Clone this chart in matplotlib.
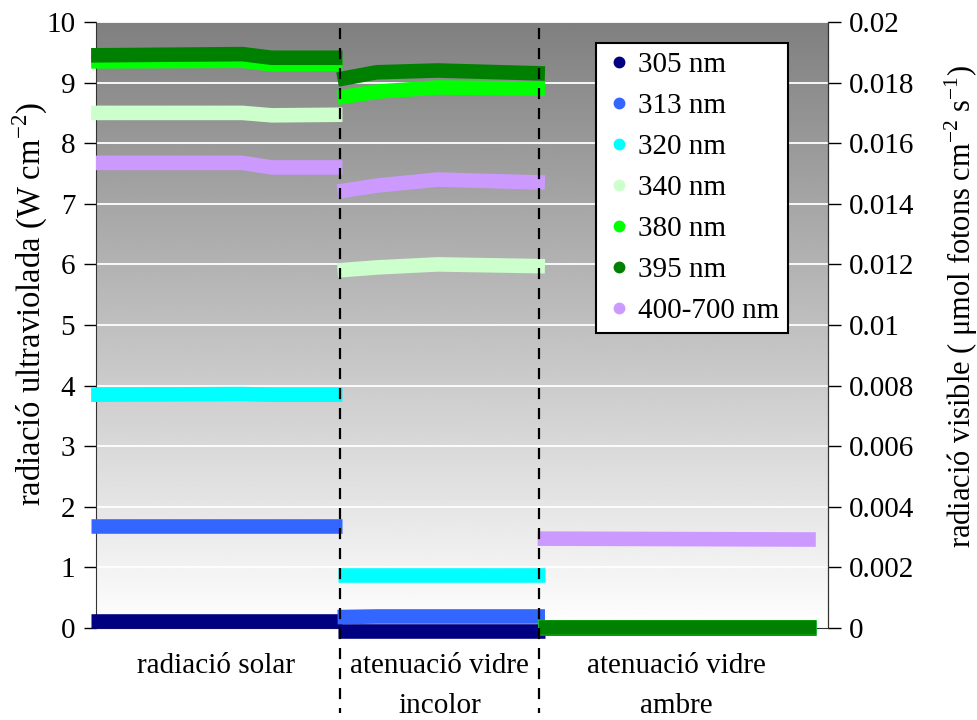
import numpy as np
import matplotlib
matplotlib.use("Agg")
import matplotlib.pyplot as plt
from matplotlib.lines import Line2D

plt.rcParams['font.family'] = ['Liberation Serif', 'DejaVu Serif']
plt.rcParams['mathtext.fontset'] = 'custom'
plt.rcParams['mathtext.rm'] = 'Liberation Serif'

# sample positions of each measuring period
x_solar = [-2, 60, 72, 101]
x_incolor = [99, 115, 140, 184]
x_ambre = [181, 295]
segment_bounds = [100, 181.6]
segment_labels = ['radiació solar', 'atenuació vidre\nincolor', 'atenuació vidre\nambre']
segment_centers = [49, 140.8, 238]

# UV series (W cm-2), one list per period
uv_names = ['305 nm', '313 nm', '320 nm', '340 nm', '380 nm', '395 nm']
uv_colors = ['#000080', '#3366ff', '#00ffff', '#ccffcc', '#00ff00', '#008000']
uv_solar = [
    [0.12, 0.12, 0.12, 0.12],
    [1.68, 1.68, 1.68, 1.68],
    [3.85, 3.86, 3.85, 3.85],
    [8.50, 8.50, 8.46, 8.47],
    [9.35, 9.36, 9.30, 9.31],
    [9.45, 9.47, 9.41, 9.41],
]
uv_incolor = [
    [-0.05, -0.05, -0.05, -0.05],
    [0.18, 0.19, 0.19, 0.19],
    [0.88, 0.88, 0.88, 0.88],
    [5.90, 5.95, 6.00, 5.97],
    [8.75, 8.85, 8.92, 8.90],
    [9.05, 9.17, 9.20, 9.15],
]
uv_ambre = [
    [0.0, 0.0],
    [0.0, 0.0],
    [0.01, 0.01],
    [0.01, 0.01],
    [0.02, 0.02],
    [0.02, 0.02],
]

# visible series (umol fotons cm-2 s-1)
vis_name = '400-700 nm'
vis_color = '#cc99ff'
vis_solar = [0.01535, 0.01535, 0.0152, 0.0152]
vis_incolor = [0.0144, 0.0146, 0.0148, 0.0147]
vis_ambre = [0.00295, 0.00292]

left_ticks = list(range(0, 11))
right_ticks = [0, 0.002, 0.004, 0.006, 0.008, 0.01, 0.012, 0.014, 0.016, 0.018, 0.02]
right_labels = ['0', '0.002', '0.004', '0.006', '0.008', '0.01', '0.012', '0.014',
                '0.016', '0.018', '0.02']

fig = plt.figure(figsize=(9.78, 7.2), dpi=100)
ax = fig.add_axes([96/978, 1-628/720, 732/978, 606/720])

# gray gradient background
grad = np.linspace(1.0, 0.5, 256).reshape(-1, 1)
ax.imshow(grad, extent=[0, 1, 0, 1], transform=ax.transAxes, aspect='auto',
          cmap='gray', vmin=0, vmax=1, origin='lower', zorder=0)

for t in left_ticks[1:]:
    ax.axhline(t, color='white', lw=1.3, zorder=1)

lw = 10.5
for i in range(len(uv_names)):
    ax.plot(x_solar, uv_solar[i], color=uv_colors[i], lw=lw, solid_capstyle='butt', zorder=3,
            clip_on=False)
    ax.plot(x_incolor, uv_incolor[i], color=uv_colors[i], lw=lw, solid_capstyle='butt', zorder=3,
            clip_on=False)
    ax.plot(x_ambre, uv_ambre[i], color=uv_colors[i], lw=lw, solid_capstyle='butt', zorder=3,
            clip_on=False)

ax.set_xlim(0, 300)
ax.set_ylim(0, 10)
ax.set_yticks(left_ticks)
ax.set_yticklabels([str(t) for t in left_ticks])
ax.set_xticks(segment_centers)
ax.set_xticklabels(segment_labels, linespacing=1.7)
ax.tick_params(axis='x', length=0, pad=18, labelsize=21)
ax.tick_params(axis='y', direction='out', length=9, width=1, labelsize=21, pad=6)
ax.spines['top'].set_visible(False)
ax.spines['left'].set_color('#333333')
ax.spines['bottom'].set_color('#333333')

ax2 = ax.twinx()
ax2.plot(x_solar, vis_solar, color=vis_color, lw=lw, solid_capstyle='butt', zorder=3)
ax2.plot(x_incolor, vis_incolor, color=vis_color, lw=lw, solid_capstyle='butt', zorder=3)
ax2.plot(x_ambre, vis_ambre, color=vis_color, lw=lw, solid_capstyle='butt', zorder=3)
ax2.set_ylim(0, 0.02)
ax2.set_yticks(right_ticks)
ax2.set_yticklabels(right_labels)
ax2.tick_params(axis='y', direction='out', length=9, width=1, labelsize=21, pad=6)
ax2.spines['top'].set_visible(False)
ax2.spines['left'].set_visible(False)
ax2.spines['bottom'].set_visible(False)
ax2.spines['right'].set_color('#333333')

fig.text(30/978, 1-304/720, 'radiació ultraviolada (W cm$^{\\mathregular{-2}}$)',
         rotation=90, ha='center', va='center', fontsize=23.5)
fig.text(961/978, 1-306/720,
         'radiació visible ( μmol fotons cm$^{\\mathregular{-2}}$ s$^{\\mathregular{-1}}$)',
         rotation=90, ha='center', va='center', fontsize=22)

# dashed separators running below the axis
for b in segment_bounds:
    ax2.plot([b, b], [0.99, -0.14], transform=ax.get_xaxis_transform(), color='black',
             lw=1.6, ls=(0, (5, 4)), clip_on=False, zorder=5)

handles = [Line2D([], [], marker='o', ls='none', color=c, markersize=7.5) for c in uv_colors]
handles.append(Line2D([], [], marker='o', ls='none', color=vis_color, markersize=7.5))
leg = ax2.legend(handles, uv_names + [vis_name], loc='upper left',
                 bbox_to_anchor=(596/978, 1-43/720), bbox_transform=fig.transFigure,
                 borderaxespad=0, fontsize=21, frameon=True, fancybox=False,
                 handletextpad=0.15, labelspacing=0.5, borderpad=0.3, handlelength=1.0)
leg.get_frame().set_edgecolor('black')
leg.get_frame().set_linewidth(1.5)
leg.get_frame().set_alpha(1)

fig.savefig('out.png', dpi=100)
